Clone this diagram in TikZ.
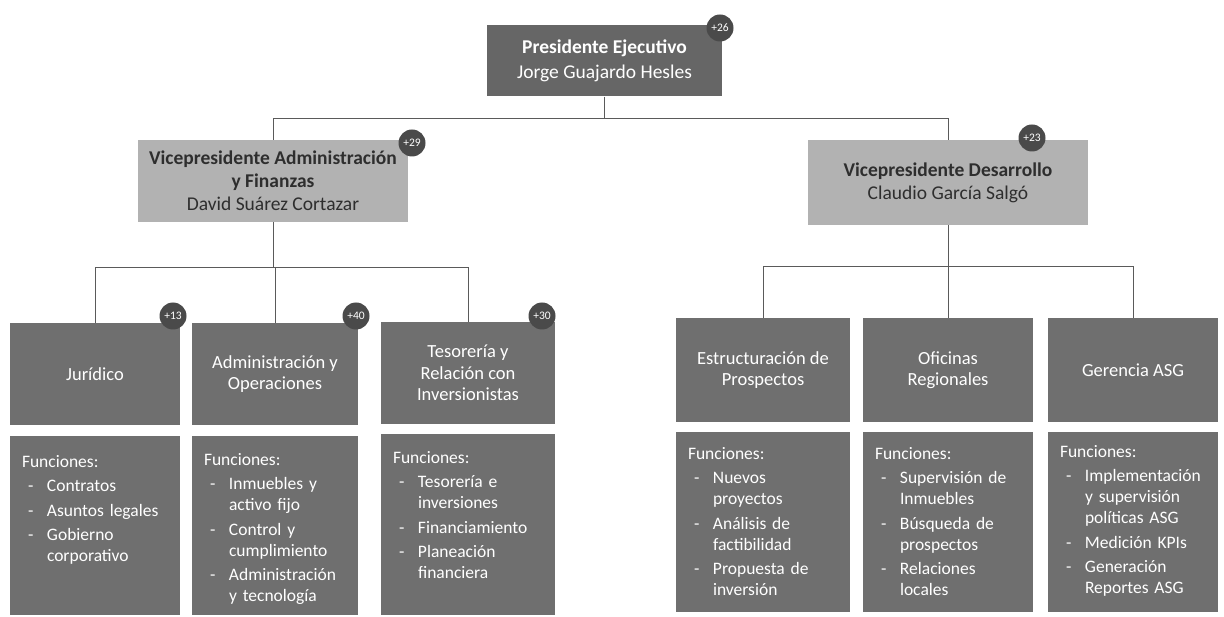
\documentclass[tikz,border=0pt]{standalone}
\usepackage{fontspec}
\setmainfont{Carlito}
\definecolor{darkbox}{HTML}{6F6F6F}
\definecolor{topbox}{HTML}{666666}
\definecolor{lightbox}{HTML}{B2B2B2}
\definecolor{badgecol}{HTML}{4A4A4A}
\definecolor{linecol}{HTML}{5A5A5A}
\definecolor{vptext}{HTML}{2E2E2E}
\newcommand{\fitem}[1]{\par\hangindent=25pt\hangafter=1\makebox[25pt][l]{\hspace{6pt}-}#1\par}
\tikzset{
  box/.style={draw=none, inner sep=2pt, align=center},
  topstyle/.style={box, fill=topbox, text=white, font=\fontsize{19.5}{25}\selectfont},
  vpstyle/.style={box, fill=lightbox, text=vptext, font=\fontsize{19.5}{22.8}\selectfont},
  unitstyle/.style={box, fill=darkbox, text=white, font=\fontsize{18.5}{21.5}\selectfont},
  funcbox/.style={box, fill=darkbox},
  functext/.style={inner sep=0pt, anchor=north west, align=left, text=white, font=\fontsize{17.5}{21}\selectfont, execute at begin node={\parskip=3.5pt}},
  badge/.style={circle, fill=badgecol, text=white, inner sep=0pt, minimum size=27pt, font=\fontsize{11.5}{13}\selectfont},
  conn/.style={draw=linecol, line width=1pt}
}
\begin{document}
\begin{tikzpicture}[x=1pt,y=-1pt]
\useasboundingbox[fill=white] (0,0) rectangle (1224,617);

% top
\node[topstyle, minimum width=235pt, minimum height=71pt] (top) at (604.5,61) {\textbf{Presidente Ejecutivo}\\Jorge Guajardo Hesles};
% VPs
\node[vpstyle, minimum width=270pt, minimum height=82pt] (vpl) at (273,181) {\textbf{Vicepresidente Administración}\\\textbf{y Finanzas}\\David Suárez Cortazar};
\node[vpstyle, minimum width=280pt, minimum height=85pt] (vpr) at (948,182.5) {\textbf{Vicepresidente Desarrollo}\\Claudio García Salgó};

% units left
\node[unitstyle, minimum width=170pt, minimum height=102pt] (jur) at (95,374) {Jurídico};
\node[unitstyle, minimum width=166pt, minimum height=102pt] (adm) at (275,374) {Administración y\\Operaciones};
\node[unitstyle, minimum width=174pt, minimum height=102pt] (tes) at (468,373) {Tesorería y\\Relación con\\Inversionistas};
% units right
\node[unitstyle, minimum width=174pt, minimum height=104pt] (est) at (763,370) {Estructuración de\\Prospectos};
\node[unitstyle, minimum width=170pt, minimum height=104pt] (ofi) at (948,370) {Oficinas\\Regionales};
\node[unitstyle, minimum width=170pt, minimum height=104pt] (ger) at (1133,370) {Gerencia ASG};

% function boxes
\node[funcbox, minimum width=170pt, minimum height=179pt] (fjur) at (95,525.5) {};
\node[funcbox, minimum width=166pt, minimum height=179pt] (fadm) at (275,525.5) {};
\node[funcbox, minimum width=174pt, minimum height=181pt] (ftes) at (468,524.5) {};
\node[funcbox, minimum width=174pt, minimum height=180pt] (fest) at (763,522) {};
\node[funcbox, minimum width=170pt, minimum height=180pt] (fofi) at (948,522) {};
\node[funcbox, minimum width=170pt, minimum height=180pt] (fger) at (1133,522) {};

\node[functext, text width=155pt] (tjur) at ([xshift=12pt,yshift=-19pt]fjur.north west) {Funciones:\fitem{Contratos}\fitem{Asuntos legales}\fitem{Gobierno\newline corporativo}};
\node[functext, text width=155pt] (tadm) at ([xshift=12pt,yshift=-17pt]fadm.north west) {Funciones:\fitem{Inmuebles y\newline activo fijo}\fitem{Control y\newline cumplimiento}\fitem{Administración\newline y tecnología}};
\node[functext, text width=160pt] (ttes) at ([xshift=12pt,yshift=-17pt]ftes.north west) {Funciones:\fitem{Tesorería e\newline inversiones}\fitem{Financiamiento}\fitem{Planeación\newline financiera}};
\node[functext, text width=160pt] (test) at ([xshift=12pt,yshift=-15pt]fest.north west) {Funciones:\fitem{Nuevos\newline proyectos}\fitem{Análisis de\newline factibilidad}\fitem{Propuesta de\newline inversión}};
\node[functext, text width=155pt] (tofi) at ([xshift=12pt,yshift=-15pt]fofi.north west) {Funciones:\fitem{Supervisión de\newline Inmuebles}\fitem{Búsqueda de\newline prospectos}\fitem{Relaciones\newline locales}};
\node[functext, text width=155pt] (tger) at ([xshift=12pt,yshift=-13pt]fger.north west) {Funciones:\fitem{Implementación\newline y supervisión\newline políticas ASG}\fitem{Medición KPIs}\fitem{Generación\newline Reportes ASG}};

% connectors
\coordinate (bus0) at (604.5,119);
\draw[conn] (top.south) -- (bus0);
\draw[conn] (bus0) -| (vpl.north);
\draw[conn] (bus0) -| (vpr.north);

\coordinate (busl) at (273,268);
\draw[conn] (vpl.south) -- (busl);
\draw[conn] (busl) -| (jur.north);
\draw[conn] (busl) -| (adm.north);
\draw[conn] (busl) -| (tes.north);

\coordinate (busr) at (948,267);
\draw[conn] (vpr.south) -- (busr);
\draw[conn] (busr) -| (est.north);
\draw[conn] (busr) -| (ofi.north);
\draw[conn] (busr) -| (ger.north);

% badges
\node[badge] (b1) at (720,28) {+26};
\node[badge] (b2) at (412,143) {+29};
\node[badge] (b3) at (1032,138) {+23};
\node[badge] (b4) at (173,316) {+13};
\node[badge] (b5) at (356,316) {+40};
\node[badge] (b6) at (542,316) {+30};
\end{tikzpicture}
\end{document}
